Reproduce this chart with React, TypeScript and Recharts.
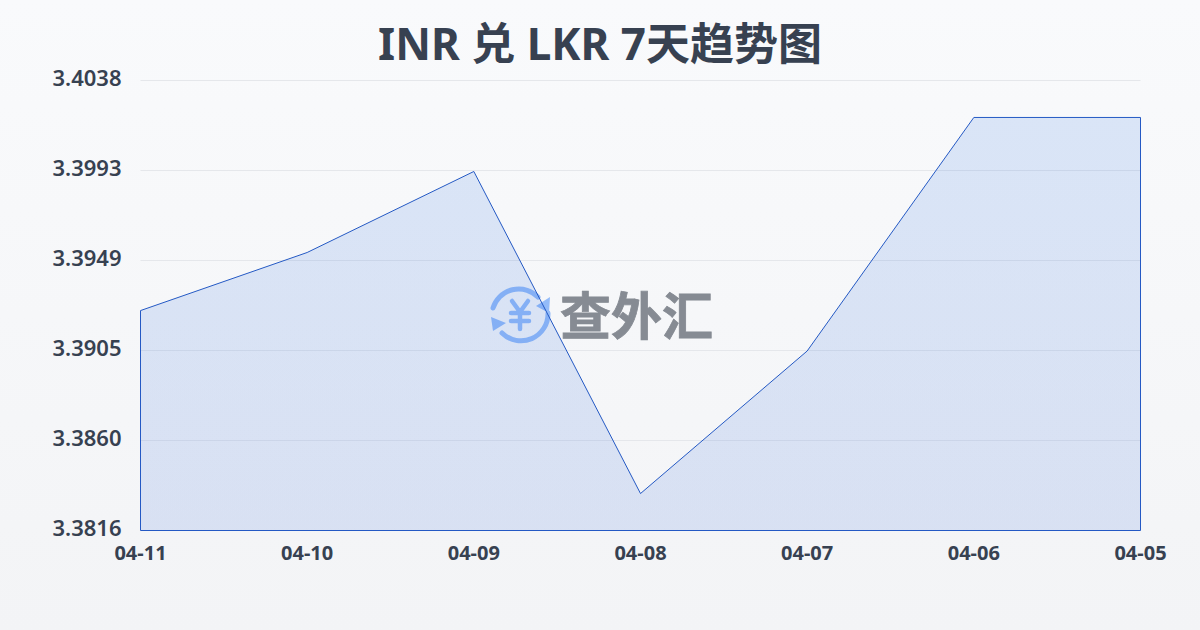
import React from "react";
import { AreaChart, Area, XAxis, YAxis, CartesianGrid, ReferenceLine } from "recharts";

const categories = ["04-11", "04-10", "04-09", "04-08", "04-07", "04-06", "04-05"];
const rates = [3.39243, 3.39529, 3.39928, 3.38342, 3.39044, 3.40194, 3.40194];
const yTicks = [3.3816, 3.386032, 3.390464, 3.394896, 3.399328, 3.40376];
const yMin = 3.3816;
const yMax = 3.40376;
const titleText = "INR 兑 LKR 7天趋势图";
const watermarkText = "查外汇";

const data = categories.map((date, i) => ({ date, rate: rates[i] }));
const FONT = '"Noto Sans", "Noto Sans CJK SC", sans-serif';
const LINE = "#2459c4";

function Watermark() {
  return (
    <svg width={260} height={80} style={{ position: "absolute", left: 485, top: 275 }}>
      <g fill="none" stroke="#93bbf9" strokeWidth={5} strokeLinecap="round">
        <path d="M 8 33 A 27 27 0 0 1 53 22" />
        <path d="M 63 38 A 27 27 0 0 1 17 58" />
        <path d="M 27 26 L 35 37 L 43 26 M 35 37 L 35 54 M 26 38 L 44 38 M 26 46 L 44 46" strokeWidth={4.5} />
      </g>
      <path d="M 65 22 L 64 38 L 51 31 Z" fill="#93bbf9" />
      <path d="M 6 42 L 21 48 L 8 56 Z" fill="#93bbf9" />
      <text x={75} y={60} fontFamily='"Noto Sans CJK SC"' fontWeight={700} fontSize={51} fill="#868b93" stroke="#868b93" strokeWidth={0.8}>
        {watermarkText}
      </text>
    </svg>
  );
}

export default function App() {
  return (
    <div
      style={{
        position: "fixed",
        left: 0,
        top: 0,
        width: 1200,
        height: 630,
        overflow: "hidden",
        background: "linear-gradient(180deg, #f9fafc 0%, #f3f4f6 100%)",
        fontFamily: FONT,
      }}
    >
      <Watermark />
      <div
        style={{
          position: "absolute",
          left: 0,
          top: 13,
          width: 1200,
          textAlign: "center",
          fontSize: 44,
          lineHeight: "60px",
          fontWeight: 700,
          color: "#374151",
        }}
      >
        {titleText}
      </div>
      <AreaChart
        width={1200}
        height={630}
        data={data}
        margin={{ top: 80.5, right: 59.5, bottom: 69.5, left: 0 }}
        style={{ position: "absolute", left: 0, top: 0 }}
      >
        <defs>
          <linearGradient id="areaFill" x1="0" y1="0" x2="0" y2="1">
            <stop offset="0%" stopColor="#2f74e0" stopOpacity={0.15} />
            <stop offset="100%" stopColor="#2f64d8" stopOpacity={0.14} />
          </linearGradient>
        </defs>
        <CartesianGrid horizontal vertical={false} stroke="#e5e7eb" strokeWidth={1} />
        <XAxis
          dataKey="date"
          type="category"
          scale="point"
          interval={0}
          height={30}
          axisLine={false}
          tickLine={false}
          tickMargin={9}
          tick={{ fontFamily: FONT, fontSize: 20, fontWeight: 700, fill: "#374151" }}
        />
        <YAxis
          type="number"
          domain={[yMin, yMax]}
          ticks={yTicks}
          width={140.5}
          orientation="left"
          axisLine={false}
          tickLine={false}
          tickMargin={13}
          dy={-2}
          tickFormatter={(v: number) => v.toFixed(4)}
          tick={{ fontFamily: FONT, fontSize: 22, fontWeight: 600, fill: "#374151" }}
        />
        <Area
          type="linear"
          dataKey="rate"
          baseValue={yMin}
          stroke={LINE}
          strokeWidth={1}
          fill="url(#areaFill)"
          fillOpacity={1}
          dot={false}
          activeDot={false}
          isAnimationActive={false}
        />
        <ReferenceLine stroke={LINE} strokeWidth={1} segment={[{ x: categories[0], y: yMin }, { x: categories[0], y: rates[0] }]} />
        <ReferenceLine stroke={LINE} strokeWidth={1} segment={[{ x: categories[6], y: yMin }, { x: categories[6], y: rates[6] }]} />
        <ReferenceLine y={yMin} stroke={LINE} strokeWidth={1} />
      </AreaChart>
    </div>
  );
}
